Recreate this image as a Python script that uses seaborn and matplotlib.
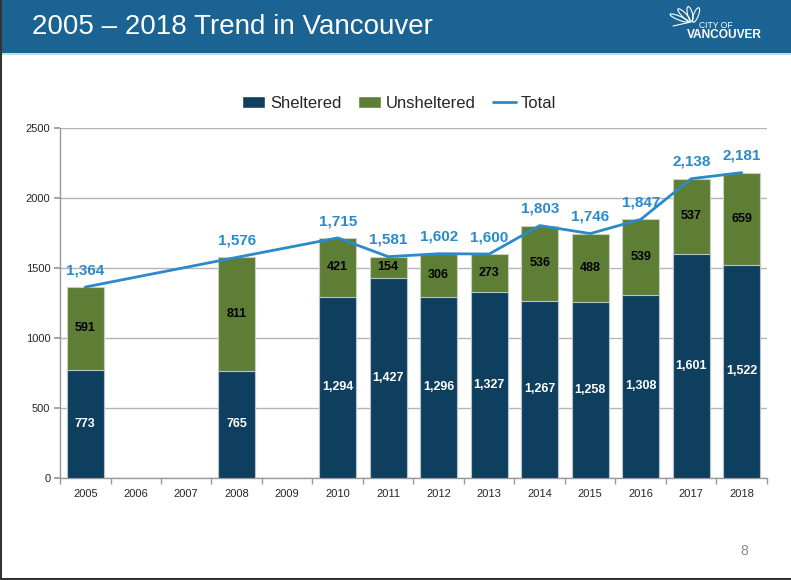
import matplotlib
matplotlib.use("Agg")
import matplotlib.pyplot as plt
import seaborn as sns
import numpy as np
import pandas as pd
from matplotlib.patches import Rectangle, Patch, Ellipse
from matplotlib.lines import Line2D

years = ["2005", "2006", "2007", "2008", "2009", "2010", "2011", "2012",
         "2013", "2014", "2015", "2016", "2017", "2018"]
sheltered = [773, np.nan, np.nan, 765, np.nan, 1294, 1427, 1296, 1327, 1267, 1258, 1308, 1601, 1522]
unsheltered = [591, np.nan, np.nan, 811, np.nan, 421, 154, 306, 273, 536, 488, 539, 537, 659]
total = [1364, np.nan, np.nan, 1576, np.nan, 1715, 1581, 1602, 1600, 1803, 1746, 1847, 2138, 2181]
yticks = [0, 500, 1000, 1500, 2000, 2500]

C_SH = "#0f3f5f"
C_UN = "#5e7e35"
C_TOT = "#2b8ac9"
C_BAND = "#1b6392"

sns.set_theme(style="white")
plt.rcParams["font.family"] = ["Liberation Sans", "DejaVu Sans"]

df = pd.DataFrame({"year": years, "sheltered": sheltered,
                   "unsheltered": unsheltered, "total": total})
df["stack"] = df["sheltered"] + df["unsheltered"]

fig = plt.figure(figsize=(7.91, 5.80), dpi=100)
W, H = 791, 580

def fx(x):
    return x / W

def fy(y):
    return 1 - y / H

# title band
fig.patches.append(Rectangle((0, fy(53)), 1, 53 / H, transform=fig.transFigure,
                             facecolor=C_BAND, edgecolor="none", zorder=0))
fig.patches.append(Rectangle((0, fy(55)), 1, 2 / H, transform=fig.transFigure,
                             facecolor="#c9dbe8", edgecolor="none", zorder=0))
fig.add_artist(Line2D([0.5 / W, 0.5 / W], [0, 1], transform=fig.transFigure, color="#333333", lw=1.5))
fig.add_artist(Line2D([0, 1], [1.5 / H, 1.5 / H], transform=fig.transFigure, color="#333333", lw=1.5))
fig.text(fx(32), fy(27), "2005 \u2013 2018 Trend in Vancouver", color="white",
         fontsize=20, va="center", ha="left")

# logo
for ang, cx, cy in [(60, 679, 18), (35, 684, 15), (10, 690, 14), (-15, 696, 15)]:
    e = Ellipse((fx(cx), fy(cy)), 5 / W, 15 / H, angle=ang, transform=fig.transFigure,
                facecolor="none", edgecolor="white", lw=0.8)
    fig.patches.append(e)
fig.add_artist(Line2D([fx(673), fx(691)], [fy(26), fy(22)], transform=fig.transFigure,
                      color="white", lw=0.8))
fig.text(fx(699), fy(25), "CITY OF", color="white", fontsize=6.2, va="center", ha="left")
fig.text(fx(687), fy(35.5), "VANCOUVER", color="white", fontsize=8.6, fontweight="bold",
         va="center", ha="left")
fig.text(fx(740), fy(551), "8", color="#888888", fontsize=10, va="center", ha="left")

ax = fig.add_axes([fx(60), fy(478), 707 / W, 350 / H])

sns.barplot(data=df, x="year", y="stack", order=years, color=C_UN, width=0.73,
            edgecolor="#c8d0c0", linewidth=0.8, ax=ax, saturation=1, zorder=2)
sns.barplot(data=df, x="year", y="sheltered", order=years, color=C_SH, width=0.73,
            edgecolor="#b8c4cc", linewidth=0.8, ax=ax, saturation=1, zorder=3)

pos = np.arange(len(years))
mask = ~df["total"].isna().values
line_df = pd.DataFrame({"x": pos[mask], "y": df["total"].values[mask]})
sns.lineplot(data=line_df, x="x", y="y", color=C_TOT, lw=2, ax=ax, zorder=4)

for i in range(len(years)):
    s, u, t = sheltered[i], unsheltered[i], total[i]
    if np.isnan(s):
        continue
    ax.text(i, s / 2, f"{int(s):,}", color="white", fontsize=9, fontweight="bold",
            ha="center", va="center", zorder=5)
    ax.text(i, s + u / 2, f"{int(u):,}", color="black", fontsize=9, fontweight="bold",
            ha="center", va="center", zorder=5)
    ax.text(i, t + 70, f"{int(t):,}", color=C_TOT, fontsize=11, fontweight="bold",
            ha="center", va="bottom", zorder=5)

ax.set_xlim(-0.5, len(years) - 0.5)
ax.set_ylim(0, 2500)
ax.set_yticks(yticks)
ax.set_yticklabels([str(v) for v in yticks], fontsize=8)
ax.set_xticks(pos)
ax.set_xticklabels(years, fontsize=8)
ax.set_xticks(np.arange(-0.5, len(years), 1), minor=True)
ax.tick_params(axis="x", which="major", length=0, pad=8)
ax.tick_params(axis="x", which="minor", length=4, color="#999999", direction="out", bottom=True)
ax.tick_params(axis="y", length=4, color="#999999", direction="out", left=True, pad=3)
ax.set_xlabel("")
ax.set_ylabel("")
ax.grid(axis="y", color="#b5b5b5", lw=1, zorder=0)
ax.set_axisbelow(True)
for sp in ["top", "right"]:
    ax.spines[sp].set_visible(False)
for sp in ["left", "bottom"]:
    ax.spines[sp].set_color("#999999")
    ax.spines[sp].set_linewidth(1)

handles = [Patch(facecolor=C_SH, label="Sheltered"),
           Patch(facecolor=C_UN, label="Unsheltered"),
           Line2D([0], [0], color=C_TOT, lw=2, label="Total")]
fig.legend(handles=handles, loc="center", bbox_to_anchor=(fx(399), fy(103)), ncol=3,
           frameon=False, fontsize=12, handlelength=1.4, handleheight=0.7,
           columnspacing=1.0, handletextpad=0.3)

fig.savefig("out.png", dpi=100)
